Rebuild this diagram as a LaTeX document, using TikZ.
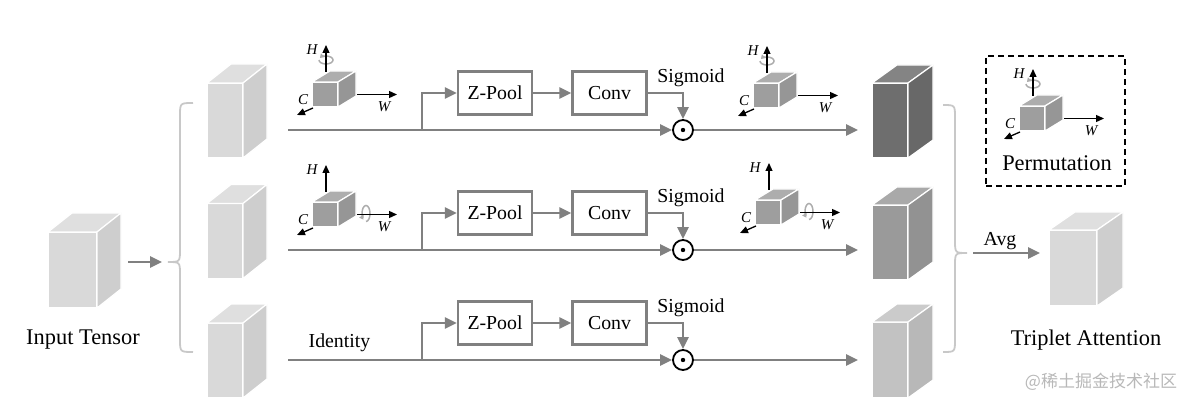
\documentclass[tikz,border=0pt]{standalone}
\usepackage{fontspec}
\setmainfont{Liberation Serif}
\newfontfamily\cjkfont{Noto Sans CJK SC}
\usetikzlibrary{arrows.meta}
\definecolor{flowgray}{HTML}{808080}
\definecolor{bracegray}{HTML}{C8C8C8}
\definecolor{lightt}{HTML}{D9D9D9}
\definecolor{darkt}{HTML}{6E6E6E}
\definecolor{midt}{HTML}{9A9A9A}
\definecolor{palet}{HTML}{C2C2C2}
\definecolor{icongray}{HTML}{9E9E9E}
\definecolor{rotgray}{HTML}{ADADAD}
\definecolor{markgray}{HTML}{B8B8B8}
\tikzset{
  flow/.style={draw=flowgray, line width=2.6pt, >={Triangle[length=12pt,width=11pt]}},
  op/.style={draw=flowgray, line width=2.2pt, fill=white, minimum width=74pt,
    minimum height=43pt, inner sep=0, font=\fontsize{19.8}{22}\selectfont},
  mult/.style={circle, draw=black, line width=1.8pt, fill=white, minimum size=20pt, inner sep=0},
  face/.style={draw=white, line width=1.2pt, inner sep=0, outer sep=0},
  axis/.style={draw=black, line width=1.3pt, >={Triangle[length=8pt,width=7pt]}},
  axlabel/.style={font=\fontsize{15}{16}\selectfont\itshape, inner sep=0},
  lbl/.style={font=\fontsize{19.8}{22}\selectfont, inner sep=0},
  title/.style={font=\fontsize{22.4}{25}\selectfont, inner sep=0},
  permbox/.style={draw=black, line width=1.8pt, dash pattern=on 6pt off 4pt,
    minimum width=139pt, minimum height=130pt, inner sep=0},
  brace/.style={draw=bracegray, line width=1.8pt},
  rot/.style={draw=rotgray, line width=1.5pt, >={Triangle[length=4pt,width=5pt]}}
}
% block: name, centre of front face, width, height, depth, colour
\newcommand{\tensor}[6]{
  \node [face, fill=#6, minimum width=#3, minimum height=#4] (#1) at (#2) {};
  \filldraw [face, fill=#6!85!white] (#1.north west) -- ++(#5) -- ([shift={(#5)}]#1.north east) -- (#1.north east) -- cycle;
  \filldraw [face, fill=#6!95!black] (#1.north east) -- ++(#5) -- ([shift={(#5)}]#1.south east) -- (#1.south east) -- cycle;
}
\newcommand{\axes}[1]{
  \draw [axis,->] ([shift={(1,-10)}]#1.north) -- ++(0,-27) node [axlabel, anchor=east, xshift=-8pt, yshift=-5pt] {H};
  \draw [axis,->] ([shift={(19,0)}]#1.east) -- ++(40,0) node [axlabel, anchor=north, xshift=-13pt, yshift=-7pt] {W};
  \draw [axis,->] ([shift={(1,1)}]#1.south west) -- ++(-16,7);
  \node [axlabel] at ([shift={(-9,-7)}]#1.south west) {C};
}
\newcommand{\spinH}[1]{
  \draw [rot,->] ([shift={(-6,-22)}]#1.north) arc [start angle=180, end angle=-150, x radius=7, y radius=4];
}
\newcommand{\spinW}[1]{
  \draw [rot,->] ([shift={(28,7)}]#1.east) arc [start angle=90, end angle=-230, x radius=4, y radius=8];
}

\begin{document}
\begin{tikzpicture}[x=1pt, y=-1pt]
  \useasboundingbox (0,0) rectangle (1197,406);

  % input and the three branches
  \tensor{in}{72.5,270}{49pt}{76pt}{24,-19}{lightt}
  \node [title] (intxt) at (83,340) {Input Tensor};
  \coordinate (lb) at (168,262);
  \draw [flow,->] ([xshift=-40pt]lb) -- ([xshift=-6pt]lb);
  \draw [brace] (193,103) .. controls (180,103) .. (180,116) -- (180,249)
    .. controls (180,262) .. (lb) .. controls (180,262) .. (180,275) -- (180,339)
    .. controls (180,352) .. (193,352);

  \tensor{l1}{225,120.5}{36pt}{75pt}{24,-19}{lightt}
  \tensor{l2}{225,241}{36pt}{75pt}{24,-19}{lightt}
  \tensor{l3}{225,360.5}{36pt}{75pt}{24,-19}{lightt}

  \foreach \y [count=\i] in {130,250,360} {
    \node [op] (zp\i) at (495,\y-37) {Z-Pool};
    \node [op] (cv\i) at (609.5,\y-37) {Conv};
    \node [mult] (o\i) at (683,\y) {};
    \fill (o\i) circle (2.2pt);
    \node [lbl] (sg\i) at (691,\y-52) {Sigmoid};
    \coordinate (s\i) at (288,\y);
    \coordinate (b\i) at (422,\y);
    \draw [flow,->] (s\i) -- (o\i);
    \draw [flow,->] (b\i) |- (zp\i.west);
    \draw [flow,->] (zp\i) -- (cv\i);
    \draw [flow,->] (cv\i.east) -| (o\i.north);
  }
  \node [lbl] (id) at (339.5,343) {Identity};

  % rotation icons
  \tensor{icl1}{325,94.5}{26pt}{25pt}{18,-11}{icongray}
  \spinH{icl1} \axes{icl1}
  \tensor{icr1}{766,95.5}{26pt}{25pt}{18,-11}{icongray}
  \spinH{icr1} \axes{icr1}
  \tensor{icl2}{325,214.5}{26pt}{25pt}{18,-11}{icongray}
  \spinW{icl2} \axes{icl2}
  \tensor{icr2}{768,212.5}{26pt}{25pt}{18,-11}{icongray}
  \spinW{icr2} \axes{icr2}

  % outputs
  \tensor{r1}{890,120.5}{36pt}{75pt}{25,-18}{darkt}
  \tensor{r2}{890,242.5}{36pt}{75pt}{25,-18}{midt}
  \tensor{r3}{890,360}{36pt}{76pt}{25,-18}{palet}
  \foreach \i in {1,2,3} {
    \draw [flow,->, shorten >=14pt] (o\i) -- (o\i -| r\i.west);
  }

  \coordinate (rb) at (967,253);
  \draw [brace] (943,105) .. controls (955,105) .. (955,118) -- (955,240)
    .. controls (955,253) .. (rb) .. controls (955,253) .. (955,266) -- (955,339)
    .. controls (955,352) .. (943,352);
  \draw [flow,->] ([xshift=6pt]rb) -- ([xshift=73pt]rb);
  \node [lbl] (avg) at (1000,241) {Avg};

  \tensor{ta}{1073,268}{48pt}{76pt}{26,-18}{lightt}
  \node [title] (tatxt) at (1086,340) {Triplet Attention};

  % legend
  \node [permbox] (perm) at (1055.5,121) {};
  \tensor{icp}{1032,118.5}{26pt}{25pt}{18,-11}{icongray}
  \spinH{icp} \axes{icp}
  \node [title] (permtxt) at (1057,163) {Permutation};

  \node [font=\cjkfont\fontsize{17}{18}\selectfont, text=markgray, inner sep=0] (mark) at (1101,382) {@稀土掘金技术社区};
\end{tikzpicture}
\end{document}
